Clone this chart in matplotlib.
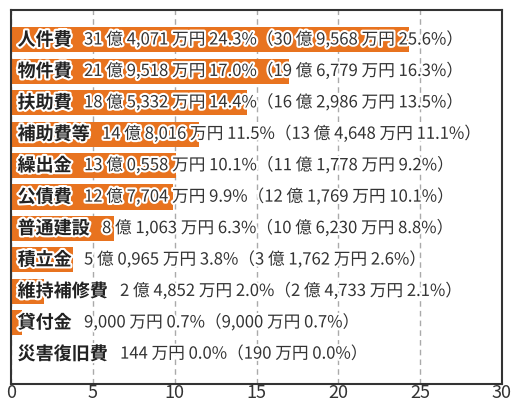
import matplotlib
matplotlib.use('Agg')
import matplotlib.pyplot as plt
import matplotlib.patheffects as pe

plt.rcParams['font.family'] = ['Noto Sans CJK JP', 'DejaVu Sans']

categories = ['人件費', '物件費', '扶助費', '補助費等', '繰出金', '公債費',
              '普通建設', '積立金', '維持補修費', '貸付金', '災害復旧費']
shares = [24.3, 17.0, 14.4, 11.5, 10.1, 9.9, 6.3, 3.8, 2.0, 0.7, 0.0]
details = [
    '31 億 4,071 万円 24.3%（30 億 9,568 万円 25.6%）',
    '21 億 9,518 万円 17.0%（19 億 6,779 万円 16.3%）',
    '18 億 5,332 万円 14.4%（16 億 2,986 万円 13.5%）',
    '14 億 8,016 万円 11.5%（13 億 4,648 万円 11.1%）',
    '13 億 0,558 万円 10.1%（11 億 1,778 万円 9.2%）',
    '12 億 7,704 万円 9.9%（12 億 1,769 万円 10.1%）',
    '8 億 1,063 万円 6.3%（10 億 6,230 万円 8.8%）',
    '5 億 0,965 万円 3.8%（3 億 1,762 万円 2.6%）',
    '2 億 4,852 万円 2.0%（2 億 4,733 万円 2.1%）',
    '9,000 万円 0.7%（9,000 万円 0.7%）',
    '144 万円 0.0%（190 万円 0.0%）',
]
xticks = [0, 5, 10, 15, 20, 25, 30]

bar_color = '#e8731f'
ink = '#333333'

fig = plt.figure(figsize=(5.12, 4.06), dpi=100)
ax = fig.add_axes([11/512, 21/406, 491/512, 374/406])

ypos = list(range(len(categories)))
ax.barh(ypos, shares, height=0.8, color=bar_color, zorder=2)
ax.set_ylim(len(categories) - 0.05, -0.95)
ax.set_xlim(0, 30)
ax.set_xticks(xticks)
ax.set_yticks([])
ax.tick_params(axis='x', length=0, labelsize=13, labelcolor=ink, pad=-1)
ax.grid(axis='x', color='#aaaaaa', linestyle=(0, (4, 3)), linewidth=1)
ax.set_axisbelow(True)
for s in ax.spines.values():
    s.set_color(ink)
    s.set_linewidth(1.5)

stroke = [pe.withStroke(linewidth=3, foreground='white')]
for y, cat, det in zip(ypos, categories, details):
    t = ax.text(0.4, y, cat, fontsize=13, fontweight='bold', color='#222222',
                va='center', ha='left', path_effects=stroke, zorder=3)
    ax.annotate(det, xy=(1, 0.5), xycoords=t, xytext=(9, 0),
                textcoords='offset points', va='center', ha='left',
                fontsize=12, color=ink, path_effects=stroke, zorder=3)

fig.savefig('out.png', dpi=100)
